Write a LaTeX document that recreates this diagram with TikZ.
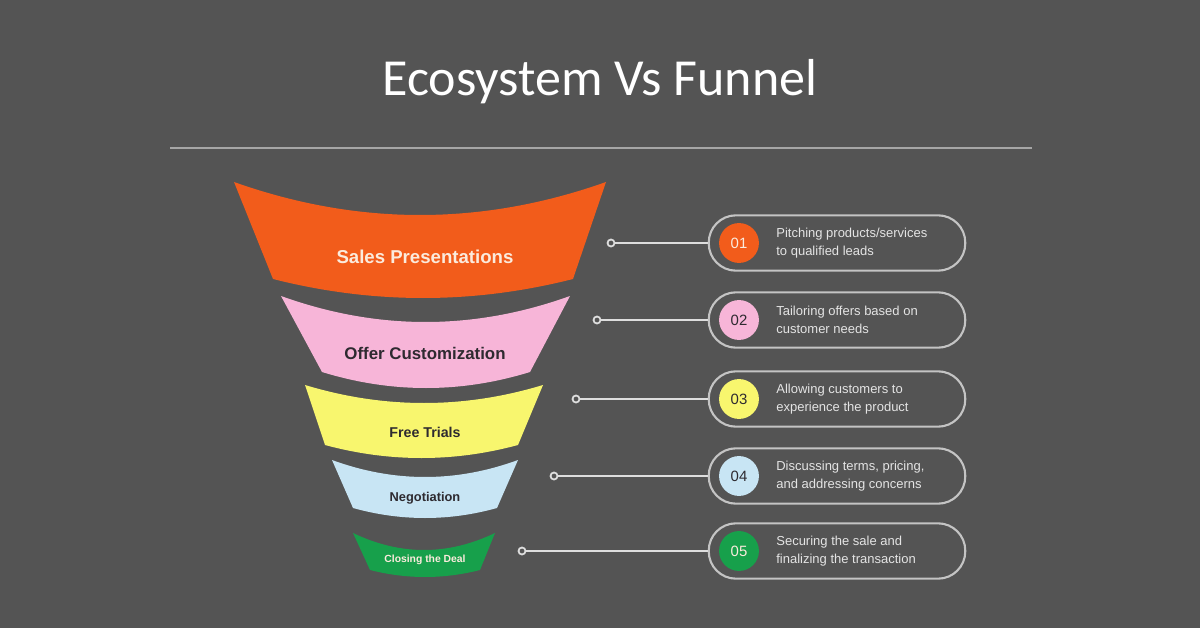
\documentclass[tikz,border=0pt]{standalone}
\usepackage{fontspec}
\setmainfont{Liberation Sans}
\newfontfamily\titlefont{Carlito}
\definecolor{bgcol}{HTML}{545454}
\definecolor{rulecol}{HTML}{A6A6A6}
\definecolor{pillcol}{HTML}{C4C4C4}
\definecolor{linkcol}{HTML}{DEDEDE}
\definecolor{desccol}{HTML}{E4E4E4}
\definecolor{segone}{HTML}{F25C1B}
\definecolor{segtwo}{HTML}{F7B5D8}
\definecolor{segthree}{HTML}{F8F66E}
\definecolor{segfour}{HTML}{C8E5F4}
\definecolor{segfive}{HTML}{17A04B}
\definecolor{numlight}{HTML}{FBEBDD}
\definecolor{numdark}{HTML}{2E2A30}
\tikzset{
  seglabel/.style={font=\bfseries, inner sep=0pt},
  pill/.style={draw=pillcol, line width=1.2pt, rounded corners=15.5pt,
    minimum width=146pt, minimum height=31.5pt},
  numdot/.style={circle, minimum size=22.7pt, inner sep=0pt, font=\fontsize{8.5}{10}\selectfont},
  dot/.style={circle, draw=linkcol, fill=bgcol, line width=1pt, minimum size=4pt, inner sep=0pt},
  link/.style={linkcol, line width=1.3pt},
  desc/.style={anchor=west, align=left, text=desccol, inner sep=0pt,
    font=\fontsize{7.4}{10.2}\selectfont}
}
\begin{document}
\begin{tikzpicture}[x=0.02cm,y=-0.02cm]
	\useasboundingbox (0,0) rectangle (1200,628);
	\fill[bgcol] (0,0) rectangle (1200,628);
	\node[anchor=base, text=white] (title) at (600,96) {\titlefont\fontsize{29.6}{34}\selectfont Ecosystem Vs Funnel};
	\draw[rulecol, line width=1pt] (170,148) -- (1032,148);
	% funnel: top left/right, top y, top sag, bottom left/right, bottom y, bottom sag
	\foreach \a/\b/\t/\s/\c/\d/\u/\v/\col in {234/606/182/33/273/573/279/19/segone,
		281/570/296/26/322/530/372/16/segtwo,
		305/543/385/18/325/518/445/13/segthree,
		332/518/460/17/353/497/508/10/segfour,
		353/495/533/17/370/480/570/7/segfive}
	{
		\fill[\col] (\a,\t) .. controls ({\a+(\b-\a)/3},{\t+4/3*\s}) and ({\b-(\b-\a)/3},{\t+4/3*\s}) .. (\b,\t)
			-- (\d,\u) .. controls ({\d-(\d-\c)/3},{\u+4/3*\v}) and ({\c+(\d-\c)/3},{\u+4/3*\v}) .. (\c,\u) -- cycle;
	}
	\node[seglabel, text=numlight, font=\bfseries\fontsize{10.6}{12}\selectfont] (seg1) at (425,257) {Sales Presentations};
	\node[seglabel, text=numdark, font=\bfseries\fontsize{9.6}{12}\selectfont] (seg2) at (425,353) {Offer Customization};
	\node[seglabel, text=numdark, font=\bfseries\fontsize{8.1}{10}\selectfont] (seg3) at (425,432) {Free Trials};
	\node[seglabel, text=numdark, font=\bfseries\fontsize{7.3}{9}\selectfont] (seg4) at (425,498) {Negotiation};
	\node[seglabel, text=numlight, font=\bfseries\fontsize{5.9}{7}\selectfont] (seg5) at (425,560) {Closing the Deal};
	% steps on the right
	\foreach \i/\y/\dx/\col/\tc in {1/243/611/segone/numlight, 2/320/597/segtwo/numdark,
		3/399/576/segthree/numdark, 4/476/554/segfour/numdark, 5/551/522/segfive/numlight}
	{
		\node[pill] (pill\i) at (837,\y) {};
		\node[numdot, fill=\col, text=\tc] (num\i) at (739,\y) {0\i};
		\node[dot] (dot\i) at (\dx,\y) {};
		\draw[link] (dot\i) -- (pill\i);
	}
	\node[desc] (desc1) at (776,243) {Pitching products/services\\to qualified leads};
	\node[desc] (desc2) at (776,320) {Tailoring offers based on\\customer needs};
	\node[desc] (desc3) at (776,399) {Allowing customers to\\experience the product};
	\node[desc] (desc4) at (776,476) {Discussing terms, pricing,\\and addressing concerns};
	\node[desc] (desc5) at (776,551) {Securing the sale and\\finalizing the transaction};
\end{tikzpicture}
\end{document}
